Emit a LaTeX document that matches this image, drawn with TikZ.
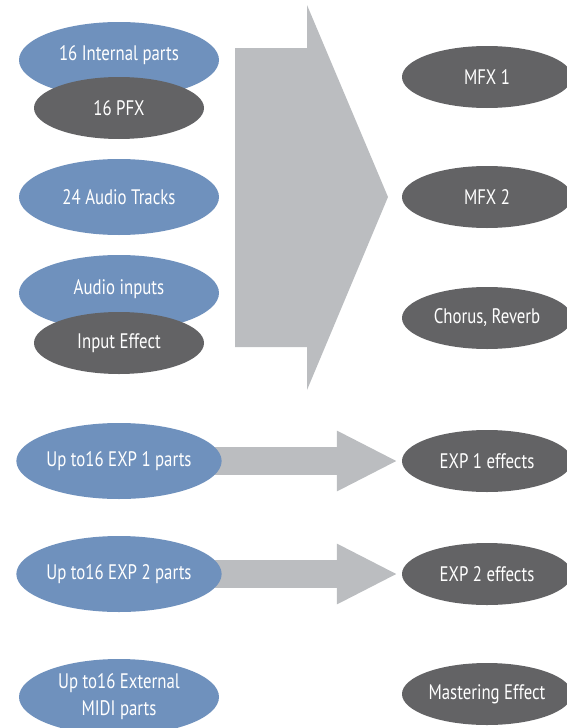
\documentclass[tikz,border=0pt]{standalone}
\usepackage{fontspec}
\setmainfont[FakeStretch=0.8]{PT Sans}
\usetikzlibrary{shapes.geometric,arrows.meta}
\definecolor{partblue}{RGB}{111,145,189}
\definecolor{fxgray}{RGB}{99,99,101}
\definecolor{arrowgray}{RGB}{187,189,192}
\pgfdeclarelayer{bg}
\pgfsetlayers{bg,main}
\newcommand{\liftup}[2]{\raisebox{#1}[\height][\depth]{#2}}
\tikzset{
  part/.style={ellipse, fill=partblue, text=white, minimum width=200pt, minimum height=76pt, inner sep=0pt, align=center, font=\fontsize{21}{27}\selectfont},
  fx/.style={ellipse, fill=fxgray, text=white, minimum width=170pt, minimum height=62pt, inner sep=0pt, align=center, font=\fontsize{21}{27}\selectfont},
  flowarrow/.style={arrowgray, line width=28pt, -{Triangle[length=61pt,width=56pt]}, shorten >=4pt}
}
\begin{document}
\begin{tikzpicture}[x=1pt,y=-1pt]
\useasboundingbox (0,0) rectangle (567,728);
% left column
\node[part] (internal) at (119,60) {\liftup{5pt}{16 Internal parts}};
\node[fx] (pfx) at (119,108) {16 PFX};
\node[part] (tracks) at (119,197) {24 Audio Tracks};
\node[part] (inputs) at (119,293) {\liftup{4pt}{Audio inputs}};
\node[fx] (inputfx) at (119,343) {Input Effect};
\node[part] (exp1) at (119,461) {Up to16 EXP 1 parts};
\node[part] (exp2) at (119,574) {Up to16 EXP 2 parts};
\node[part] (ext) at (119,697) {Up to16 External\\MIDI parts};
% right column
\node[fx] (mfx1) at (487,77) {MFX 1};
\node[fx] (mfx2) at (487,197) {MFX 2};
\node[fx] (chorus) at (487,318) {Chorus, Reverb};
\node[fx] (exp1fx) at (487,461) {EXP 1 effects};
\node[fx] (exp2fx) at (487,574) {EXP 2 effects};
\node[fx] (master) at (487,694) {Mastering Effect};
\begin{pgfonlayer}{bg}
  \fill[arrowgray] (235,48) -- (307,48) -- (307,5) -- (388,197) -- (307,390) -- (307,347) -- (235,347) -- cycle;
  \draw[flowarrow] (exp1.center) -- (exp1fx.west);
  \draw[flowarrow] (exp2.center) -- (exp2fx.west);
\end{pgfonlayer}
\end{tikzpicture}
\end{document}
